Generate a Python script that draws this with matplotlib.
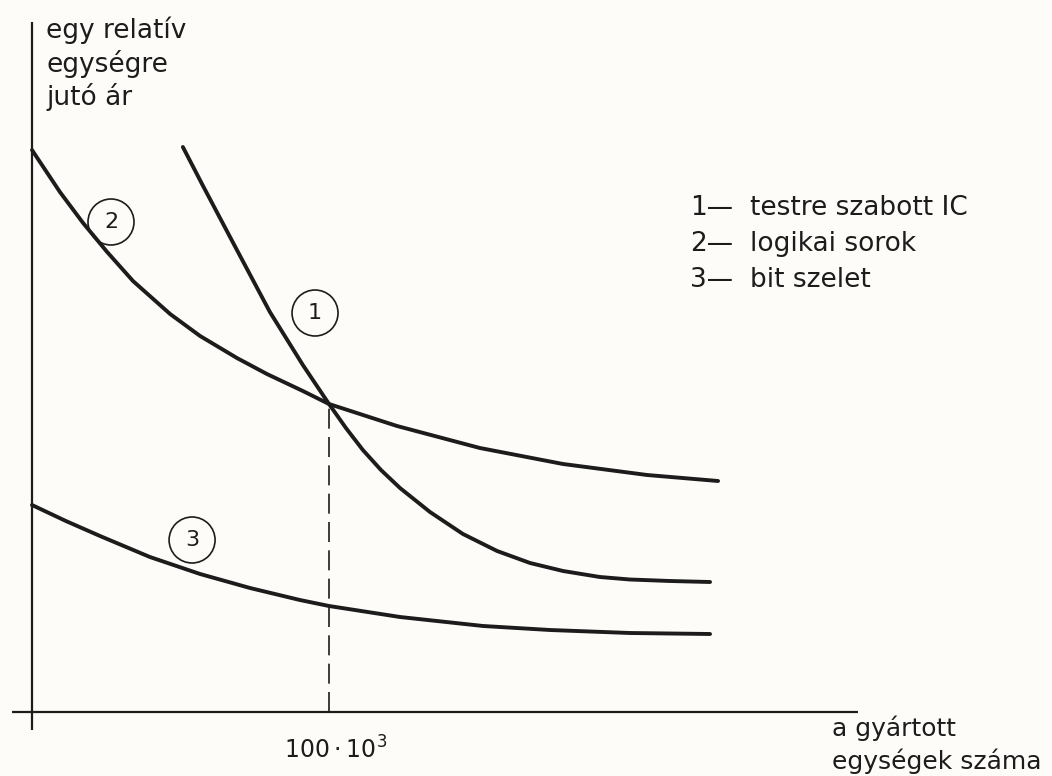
import numpy as np
import matplotlib
matplotlib.use('Agg')
import matplotlib.pyplot as plt
from matplotlib.patches import Ellipse

# gyartott egysegek szama (ezer db) es relativ egysegar
x1 = [50.8, 57.6, 69.0, 80.1, 91.2, 100.0, 105.7, 111.4, 117.5, 123.9, 134.0, 145.1, 156.6, 167.7, 178.8, 191.2, 201.3, 214.8, 228.3]
y1 = [56.5, 52.6, 46.2, 40.0, 34.7, 30.8, 28.4, 26.2, 24.2, 22.4, 20.0, 17.8, 16.1, 14.9, 14.1, 13.5, 13.25, 13.1, 13.0]

x2 = [0.0, 9.4, 17.2, 25.3, 34.0, 46.5, 56.6, 69.0, 79.1, 91.2, 100.0, 122.9, 150.8, 178.8, 207.1, 231.0]
y2 = [56.2, 52.0, 48.9, 46.0, 43.1, 39.8, 37.6, 35.4, 33.8, 32.1, 30.8, 28.6, 26.4, 24.8, 23.7, 23.1]

x3 = [0.0, 11.4, 22.9, 39.7, 56.6, 73.4, 90.2, 100.0, 123.9, 151.9, 174.4, 201.3, 228.3]
y3 = [20.7, 19.1, 17.6, 15.5, 13.8, 12.4, 11.2, 10.6, 9.5, 8.6, 8.2, 7.9, 7.8]

x_mark = 100.0
legend_nums = ['1—', '2—', '3—']
legend_txt = ['testre szabott IC', 'logikai sorok', 'bit szelet']
ylabel_lines = ['egy relatív', 'egységre', 'jutó ár']
xlabel_lines = ['a gyártott', 'egységek száma']

W, H = 1052, 776
ink = '#1c1c1c'

fig = plt.figure(figsize=(W / 100, H / 100), dpi=100, facecolor='#fdfcf8')
ax = fig.add_axes([0, 0, 1, 1])
ax.set_facecolor('#fdfcf8')
ax.axis('off')
ax.set_xlim(-32 / 2.97, (W - 32) / 2.97)
ax.set_ylim((712 - H) / 10, 712 / 10)

def px(x, y):
    return x / W, 1 - y / H

# tengelyek
ax.plot([-6.7, 278], [0, 0], color=ink, lw=1.6, solid_capstyle='butt')
ax.plot([0, 0], [-1.8, 69], color=ink, lw=1.6, solid_capstyle='butt')

# gorbek
for xs, ys in [(x1, y1), (x2, y2), (x3, y3)]:
    ax.plot(xs, ys, color=ink, lw=2.8, solid_joinstyle='round', solid_capstyle='round')

ax.plot([x_mark, x_mark], [0, 30.8], color=ink, lw=1.2, linestyle=(0, (12, 5)))

# bekarikazott szamok
for lab, (cx, cy) in zip(['1', '2', '3'], [(95.3, 39.9), (26.6, 49.0), (53.9, 17.2)]):
    ax.add_patch(Ellipse((cx, cy), 46 / 2.97, 46 / 10, fill=False, ec=ink, lw=1.2))
    ax.text(cx, cy, lab, ha='center', va='center', fontsize=16, color=ink)

for i, line in enumerate(ylabel_lines):
    fig.text(*px(46, 30 + 33.5 * i), line, fontsize=19, color=ink, va='center', ha='left')

for i in range(3):
    fig.text(*px(690, 208 + 36 * i), legend_nums[i], fontsize=19, color=ink, va='center', ha='left')
    fig.text(*px(750, 208 + 36 * i), legend_txt[i], fontsize=19, color=ink, va='center', ha='left')

fig.text(*px(336, 750), r'$\mathregular{100\cdot10^{3}}$', fontsize=17, color=ink, va='center', ha='center')
fig.text(*px(832, 728), xlabel_lines[0], fontsize=18, color=ink, va='center', ha='left')
fig.text(*px(832, 761), xlabel_lines[1], fontsize=18, color=ink, va='center', ha='left')

fig.savefig('out.png', dpi=100, facecolor=fig.get_facecolor())
